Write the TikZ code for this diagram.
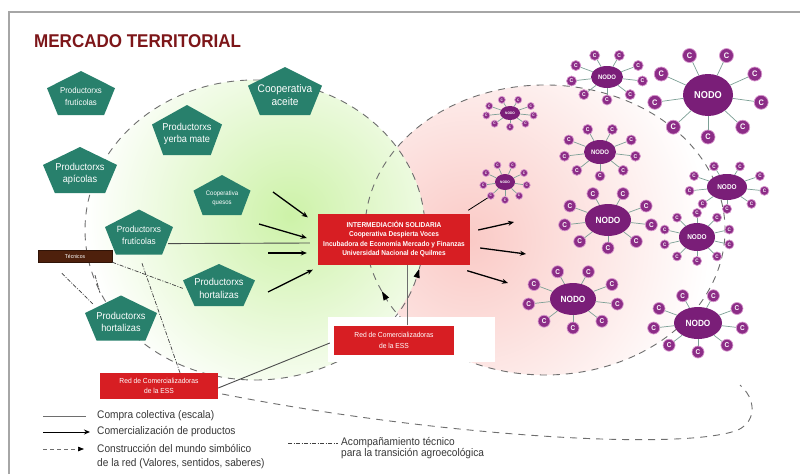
\documentclass[tikz,border=0pt]{standalone}
\usepackage{fontspec}
\setmainfont[FakeStretch=0.92]{Liberation Sans}
\usetikzlibrary{shapes.geometric, arrows.meta, calc, positioning}

\definecolor{rojoT}{RGB}{125,22,25}
\definecolor{verdeP}{RGB}{40,128,108}
\definecolor{rojoC}{RGB}{215,30,35}
\definecolor{cafe}{RGB}{78,32,12}
\definecolor{morado}{RGB}{122,30,120}
\definecolor{moradoC}{RGB}{140,45,135}
\definecolor{lilaB}{RGB}{215,150,205}
\definecolor{enlace}{RGB}{125,160,150}
\definecolor{verdeL}{RGB}{205,242,168}
\definecolor{rosaL}{RGB}{250,202,198}
\definecolor{gris}{RGB}{110,110,110}
\definecolor{textoL}{RGB}{55,55,55}

\tikzset{
  ptxt/.style={text=white, align=center, inner sep=0pt},
  caja/.style={fill=rojoC, text=white, align=center, inner sep=0pt},
  nodo/.style={ellipse, fill=morado, text=white, inner sep=0pt},
  cli/.style={circle, fill=moradoC, draw=lilaB, line width=0.7pt, text=white, inner sep=0pt},
  enl/.style={enlace, line width=0.7pt},
  limite/.style={gris, dash pattern=on 7pt off 6pt, line width=0.9pt},
  punta/.style={-{Triangle[length=9pt, width=6pt, color=black, fill=black]}},
  venta/.style={black, line width=1.3pt, -{Stealth[length=6pt, width=5pt]}},
  compra/.style={gris, line width=0.9pt},
  simb/.style={gris, dash pattern=on 4pt off 3pt, line width=0.7pt, -{Triangle[length=6pt, width=4.5pt, color=black, fill=black]}},
  tecn/.style={black!75, dash pattern=on 4pt off 1.5pt on 1pt off 1.5pt, line width=0.7pt},
  leyenda/.style={anchor=west, inner sep=0pt, text=textoL, align=left, font=\fontsize{11}{14}\selectfont},
}

% pentagon: name, x, y, width, height, {size}{skip}, text
\newcommand{\pentagono}[7]{%
  \fill[verdeP] (#2,#3) ++(0,-0.5*#5) -- ++(0.5*#4,0.39*#5) -- ++(-0.16*#4,0.61*#5)
    -- ++(-0.68*#4,0) -- ++(-0.16*#4,-0.61*#5) -- cycle;
  \node[ptxt, minimum width=#4, minimum height=#5, font=\fontsize#6\selectfont] (#1) at (#2,#3+0.08*#5) {#7};
}

\begin{document}
\begin{tikzpicture}[x=1pt, y=-1pt]
    \useasboundingbox (0,0) rectangle (800,474);
    \fill[white] (0,0) rectangle (800,474);

    % Frame
    \draw[gray!70, line width=1.6pt] (9,474) -- (9,12) -- (800,12);

    % Background glow of both markets
    \begin{scope}
      \clip (545,230) ellipse [x radius=180, y radius=145];
      \shade[inner color=rosaL, outer color=white] (470,240) circle [radius=240];
    \end{scope}
    \begin{scope}
      \clip (255,230) ellipse [x radius=170, y radius=150];
      \shade[inner color=verdeL, outer color=white] (290,215) circle [radius=205];
    \end{scope}

    % Dashed boundaries (symbolic world)
    \draw[limite, punta] (255,230) ++(90:170 and 150) arc[start angle=90, end angle=15, x radius=170, y radius=150];
    \draw[limite] (255,230) ++(15:170 and 150) arc[start angle=15, end angle=-270, x radius=170, y radius=150];
    \draw[limite, punta] (545,230) ++(60:180 and 145) arc[start angle=60, end angle=155, x radius=180, y radius=145];
    \draw[limite] (545,230) ++(155:180 and 145) arc[start angle=155, end angle=420, x radius=180, y radius=145];

    % Title
    \node[anchor=west, inner sep=0pt, text=rojoT, font=\bfseries\fontsize{18.5}{20}\selectfont] (titulo) at (34,41) {MERCADO TERRITORIAL};

    % Red boxes
    \node[caja, minimum width=118, minimum height=26, font=\fontsize{7.3}{10.5}\selectfont] (red3) at (159,386) {Red de Comercializadoras\\de la ESS};
    \draw[limite] ($(red3.east)+(4,8)$) .. controls (430,435) and (680,452) .. (738,430)
        .. controls (758,420) and (755,398) .. (740,385);
    \fill[white] (328,317) rectangle (495,362);
    \node[caja, minimum width=120, minimum height=29, font=\fontsize{7.3}{11}\selectfont] (red2) at (394,340) {Red de Comercializadoras\\de la ESS};
    \node[caja, minimum width=152, minimum height=51, font=\bfseries\fontsize{7.1}{9.2}\selectfont] (cen) at (394,239)
        {INTERMEDIACIÓN SOLIDARIA\\Cooperativa Despierta Voces\\Incubadora de Economía Mercado y Finanzas\\Universidad Nacional de Quilmes};
    \node[fill=cafe, draw=cafe!60!black, text=white, inner sep=0pt, minimum width=74, minimum height=12, font=\fontsize{5.5}{6}\selectfont] (tec) at (75,256) {Técnicos};

    % Producers
    \pentagono{fru1}{81}{93}{68}{44}{{8.5}{11.5}}{Productorxs\\frutícolas}
    \pentagono{aceite}{285}{91}{74}{48}{{11}{13}}{Cooperativa\\aceite}
    \pentagono{yerba}{187}{130}{70}{50}{{10}{12}}{Productorxs\\yerba mate}
    \pentagono{apic}{80}{170}{74}{46}{{10}{12}}{Productorxs\\apícolas}
    \pentagono{quesos}{222}{195}{57}{40}{{6.5}{9}}{Cooperativa\\quesos}
    \pentagono{fru2}{139}{232}{68}{45}{{9}{12}}{Productorxs\\frutícolas}
    \pentagono{hort1}{219}{285}{72}{42}{{10}{13}}{Productorxs\\hortalizas}
    \pentagono{hort2}{121}{318}{72}{45}{{10}{12}}{Productorxs\\hortalizas}

    % Consumer nodes: name/x/y/rx/ry/font/c radius/dx/dy/count/c font
    \foreach \n/\x/\y/\rx/\ry/\fs/\cr/\dx/\dy/\k/\cf in {
        A/708/95/25/21/10/7/54/42/9/8,
        B/607/77/16/11/6.5/5/36/23/9/5.5,
        C/510/113/10/7/3.5/3.5/24/14/9/3.5,
        D/600/152/16/12/6.5/5/36/24/9/5.5,
        E/505/182/10/8/3.5/3.5/22/18/9/3.5,
        F/608/220/23/16/9/6/44/28/9/7,
        G/727/187/20/13/7/4.5/38/22/9/5,
        H/697/237/18/14/7/4.5/34/24/10/5,
        I/573/299/23/16/9/6/45/29/9/7,
        J/698/323/24/16/9/6/45/29/9/7} {
      \node[nodo, minimum width=2*\rx, minimum height=2*\ry, font=\bfseries\fontsize{\fs}{\fs}\selectfont] (n\n) at (\x,\y) {NODO};
      \foreach \i in {1,...,\k} {
        \path (n\n) ++({90+360*\i/\k}:{\dx} and {\dy}) node[cli, minimum size=2*\cr, font=\bfseries\fontsize{\cf}{\cf}\selectfont] (n\n-\i) {C};
        \draw[enl] (n\n) -- (n\n-\i);
      }
    }

    % Commercialisation towards the intermediary
    \coordinate (v1) at (273,192);
    \coordinate (v2) at (259,224);
    \coordinate (v3) at (268,253);
    \coordinate (v4) at (268,292);
    \draw[venta] (v1) -- ($(cen.north west)+(-10,4)$);
    \draw[venta] (v2) -- ($(cen.west)+(-11,-1)$);
    \draw[venta] (v3) -- ($(cen.west)+(-11,14)$);
    \draw[venta] (v4) -- ($(cen.south west)+(-5,5)$);

    % Commercialisation towards the nodes
    \coordinate (d1) at (514,222);
    \coordinate (d2) at (526,254);
    \coordinate (d3) at (508,283);
    \draw[venta] ($(cen.east)+(8,-9)$) -- (d1);
    \draw[venta] ($(cen.east)+(10,9)$) -- (d2);
    \draw[venta] ($(cen.south east)+(-3,6)$) -- (d3);
    \draw[black, line width=0.8pt] ($(cen.north east)+(-2,-3)$) -- (nE-1);

    % Collective purchase
    \draw[compra, black!70] ($(fru2.east)+(-5,8)$) -- ($(cen.west)+(-8,4)$);
    \draw[compra] ($(red2.north)+(13,0)$) -- ($(cen.south)+(13,0)$);
    \draw[compra, black!70] ($(red3.east)+(0,2)$) -- ($(red2.west)+(-4,3)$);

    % Technical support
    \draw[tecn] (tec.south east) -- (hort1.west);
    \draw[tecn] ($(tec.south west)+(24,11)$) -- ($(hort2.north west)+(8,5)$);
    \draw[tecn] ($(tec.south)+(20,13)$) -- ($(hort2.north)+(-21,-6)$);
    \draw[tecn] ($(fru2.south)+(3,5)$) -- ($(red3.north)+(21,0)$);

    % Legend
    \coordinate (l1a) at (43,416);  \coordinate (l1b) at (86,416);
    \coordinate (l2a) at (43,432);  \coordinate (l2b) at (90,432);
    \coordinate (l3a) at (43,449);  \coordinate (l3b) at (84,449);
    \coordinate (l4a) at (288,443); \coordinate (l4b) at (338,443);
    \draw[compra] (l1a) -- (l1b);
    \draw[venta, line width=1pt] (l2a) -- (l2b);
    \draw[simb] (l3a) -- (l3b);
    \draw[tecn] (l4a) -- (l4b);
    \node[leyenda] (ley1) at (97,416) {Compra colectiva (escala)};
    \node[leyenda] (ley2) at (97,432) {Comercialización de productos};
    \node[leyenda] (ley3) at (97,456.5) {Construcción del mundo simbólico\\de la red (Valores, sentidos, saberes)};
    \node[leyenda, font=\fontsize{11}{11}\selectfont] (ley4) at (341,448) {Acompañamiento técnico\\para la transición agroecológica};
\end{tikzpicture}
\end{document}
